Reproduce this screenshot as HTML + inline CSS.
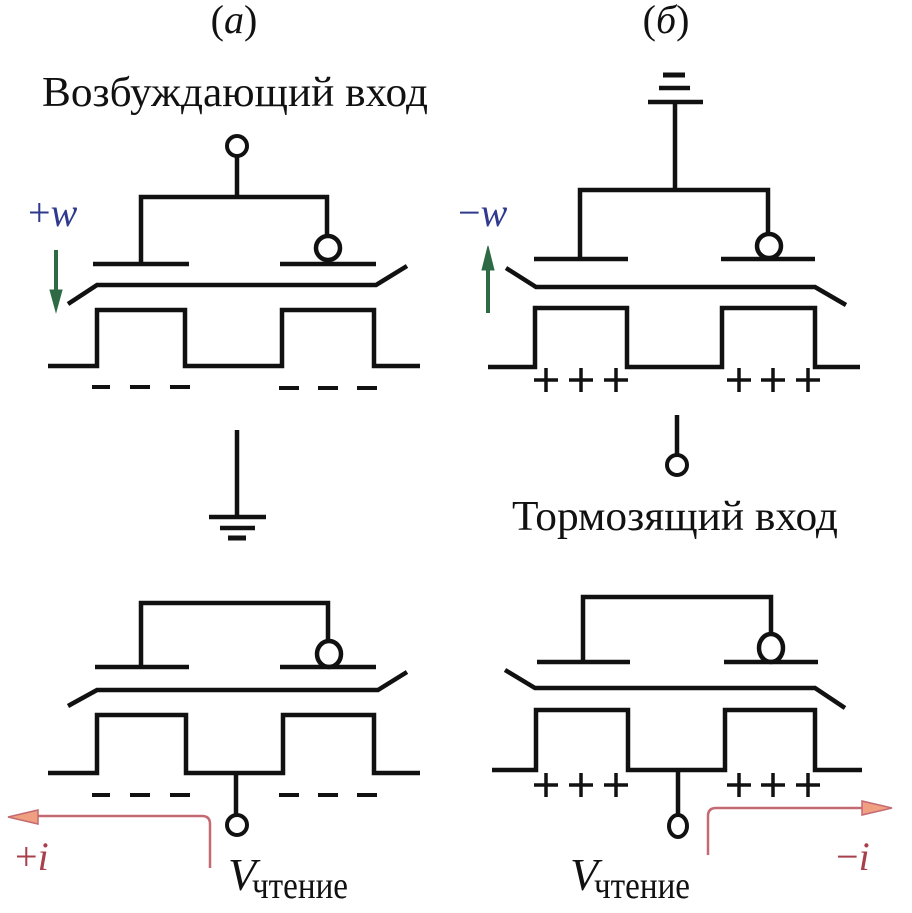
<!DOCTYPE html>
<html><head><meta charset="utf-8"><style>body{margin:0;background:#fff}svg{display:block}</style></head><body>
<svg width="912" height="913" viewBox="0 0 912 913" xmlns="http://www.w3.org/2000/svg" font-family="Liberation Serif, serif">
<g fill="none" stroke="#111" stroke-width="4.5" stroke-linecap="butt" stroke-linejoin="miter">
<!-- panel a top -->
<line x1="237" y1="156" x2="237" y2="197"/>
<polyline points="141,264 141,197 327,197 327,236"/>
<line x1="93" y1="264" x2="189" y2="264"/><line x1="280" y1="264" x2="376" y2="264"/>
<polyline points="68,304 97,285 376,285 407,266"/>
<polyline points="48,366 97,366 97,310 185,310 185,366 282,366 282,310 374,310 374,366 420,366"/>
<g stroke-width="4"><line x1="92" y1="387" x2="110" y2="387"/><line x1="130" y1="387" x2="150" y2="387"/><line x1="170" y1="387" x2="190" y2="387"/>
<line x1="279" y1="388" x2="299" y2="388"/><line x1="318" y1="388" x2="338" y2="388"/><line x1="357" y1="388" x2="377" y2="388"/></g>
<line x1="237" y1="430" x2="237" y2="515"/>
<line x1="209" y1="517" x2="266" y2="517"/><line x1="220" y1="528" x2="255" y2="528"/><line x1="228" y1="538" x2="246" y2="538" stroke-width="5"/>
<!-- panel b top -->
<line x1="663" y1="75" x2="685" y2="75" stroke-width="5"/><line x1="659" y1="88" x2="690" y2="88"/><line x1="648" y1="102" x2="703" y2="102"/>
<line x1="675" y1="102" x2="675" y2="190"/>
<polyline points="580,259 580,190 768,190 768,233"/>
<line x1="534" y1="259" x2="628" y2="259"/><line x1="721" y1="259" x2="815" y2="259"/>
<polyline points="506,268 536,287 815,287 846,305"/>
<polyline points="488,367 535,367 535,308 627,308 627,367 722,367 722,308 815,308 815,367 860,367"/>
<line x1="677" y1="415" x2="677" y2="454"/>
<!-- panel a bottom -->
<polyline points="141,667 141,603 328,603 328,643"/>
<line x1="95" y1="667" x2="189" y2="667"/><line x1="280" y1="667" x2="376" y2="667"/>
<polyline points="68,706 97,690 378,690 407,672"/>
<polyline points="48,773 97,773 97,715 186,715 186,773 283,773 283,715 374,715 374,773 420,773"/>
<line x1="236" y1="773" x2="236" y2="815"/>
<g stroke-width="4"><line x1="92" y1="795" x2="110" y2="795"/><line x1="130" y1="795" x2="150" y2="795"/><line x1="170" y1="795" x2="190" y2="795"/>
<line x1="279" y1="795" x2="299" y2="795"/><line x1="318" y1="795" x2="338" y2="795"/><line x1="357" y1="795" x2="377" y2="795"/></g>
<!-- panel b bottom -->
<polyline points="583,662 583,597 771,597 771,633"/>
<line x1="537" y1="662" x2="630" y2="662"/><line x1="724" y1="662" x2="818" y2="662"/>
<polyline points="505,670 535,688 815,688 845,708"/>
<polyline points="492,770 536,770 536,710 628,710 628,770 725,770 725,710 815,710 815,770 862,770"/>
<line x1="678" y1="770" x2="678" y2="815"/>
<!-- circles -->
<circle cx="237" cy="146" r="10" stroke-width="4"/><circle cx="328" cy="248" r="12"/>
<circle cx="769" cy="246" r="12"/><circle cx="677" cy="465" r="10" stroke-width="4"/>
<ellipse cx="329" cy="654" rx="12" ry="13"/><circle cx="237" cy="825" r="10" stroke-width="4"/>
<ellipse cx="771" cy="648" rx="12" ry="14"/><ellipse cx="678" cy="826" rx="9" ry="11" stroke-width="4"/>
<!-- plus signs -->
<g stroke-width="3.5">
<path d="M534,380h24M546,368v24 M569,380h24M581,368v24 M604,380h24M616,368v24"/>
<path d="M727,380h24M739,368v24 M761,380h24M773,368v24 M796,380h24M808,368v24"/>
<path d="M534,785h24M546,773v24 M569,785h24M581,773v24 M604,785h24M616,773v24"/>
<path d="M727,785h24M739,773v24 M761,785h24M773,773v24 M796,785h24M808,773v24"/>
</g>
</g>
<!-- green arrows -->
<g stroke="#2e6b45" stroke-width="4" fill="#2e6b45">
<line x1="56" y1="250" x2="56" y2="295"/><polygon points="50,290 62,290 56,312" stroke-width="1"/>
<line x1="488" y1="313" x2="488" y2="262"/><polygon points="482,270 494,270 488,246" stroke-width="1"/>
</g>
<!-- red arrows -->
<g stroke="#c46a72" stroke-width="2.5" fill="none">
<path d="M210,868 V824 Q210,816 202,816 H30"/>
<path d="M708,855 V816 Q708,808 716,808 H880"/>
</g>
<polygon points="8,817 38,810 38,824" fill="#f0a080" stroke="#c46a72" stroke-width="1.5"/>
<polygon points="892,808 862,801 862,815" fill="#f0a080" stroke="#c46a72" stroke-width="1.5"/>
<!-- text -->
<g fill="#111">
<text x="234" y="33" font-size="40" text-anchor="middle">(<tspan font-style="italic">a</tspan>)</text>
<text x="666" y="33" font-size="40" text-anchor="middle">(<tspan font-style="italic">б</tspan>)</text>
<text x="42" y="106" font-size="42" textLength="386" lengthAdjust="spacingAndGlyphs">Возбуждающий вход</text>
<text x="512" y="530" font-size="42" textLength="326" lengthAdjust="spacingAndGlyphs">Тормозящий вход</text>
<text x="228" y="890" font-size="46" font-style="italic">V</text>
<text x="252" y="898" font-size="38" textLength="96" lengthAdjust="spacingAndGlyphs">чтение</text>
<text x="570" y="890" font-size="46" font-style="italic">V</text>
<text x="594" y="898" font-size="38" textLength="96" lengthAdjust="spacingAndGlyphs">чтение</text>
</g>
<text x="28" y="226" font-size="40" fill="#2f3a8f">+<tspan font-style="italic">w</tspan></text>
<text x="458" y="226" font-size="40" fill="#2f3a8f">−<tspan font-style="italic">w</tspan></text>
<text x="15" y="870" font-size="40" fill="#a8404c">+<tspan font-style="italic">i</tspan></text>
<text x="836" y="870" font-size="40" fill="#a8404c">−<tspan font-style="italic">i</tspan></text>
</svg>
</body></html>
